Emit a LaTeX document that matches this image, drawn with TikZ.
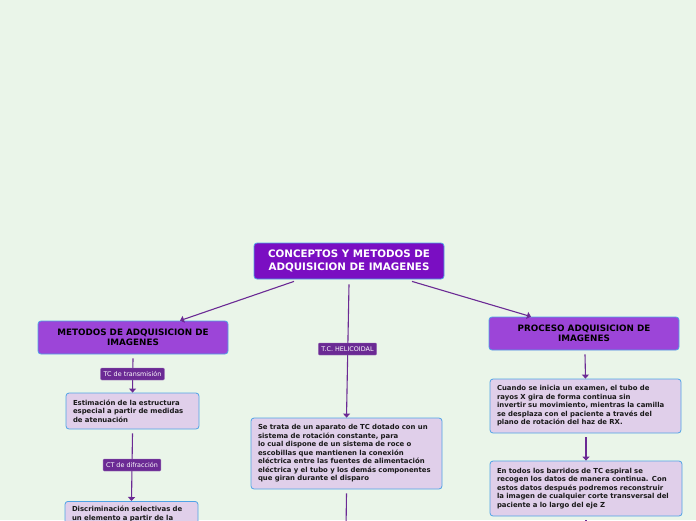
\documentclass[tikz,border=0pt]{standalone}
\usepackage{fontspec}
\setmainfont{DejaVu Sans}
\usetikzlibrary{calc,arrows.meta}
\definecolor{bg}{HTML}{EAF5E9}
\definecolor{cfill}{HTML}{7A0EC2}
\definecolor{mfill}{HTML}{9C45D8}
\definecolor{bfill}{HTML}{E0CFEA}
\definecolor{lfill}{HTML}{6B2A94}
\definecolor{edge}{HTML}{4FA3E6}
\definecolor{wire}{HTML}{6B2A94}
\tikzset{
  central/.style={draw=edge,line width=0.8pt,fill=cfill,rounded corners=3pt,text=white,font=\bfseries\fontsize{10.3}{12.8}\selectfont,align=center,minimum width=190pt,minimum height=36pt,inner sep=0pt},
  mainbox/.style={draw=edge,line width=0.8pt,fill=mfill,rounded corners=3pt,text=black,font=\bfseries\fontsize{8.8}{10.5}\selectfont,align=center,minimum width=190pt,minimum height=33pt,inner sep=0pt},
  bodybox/.style={draw=edge,line width=0.8pt,fill=bfill,rounded corners=3pt,text=black!90,font=\bfseries\fontsize{6.9}{8.5}\selectfont,align=left,inner xsep=7pt,inner ysep=0pt},
  lab/.style={draw=lfill!70!white,line width=0.4pt,fill=lfill,rounded corners=1pt,text=white,font=\fontsize{6.4}{7}\selectfont,inner xsep=3pt,minimum height=12pt,inner ysep=0pt},
  wireline/.style={draw=wire,line width=1.1pt},
  tip/.style={-{Triangle[length=4pt,width=7pt]}},
}
\begin{document}
\begin{tikzpicture}[x=1pt,y=-1pt]
\useasboundingbox (0,0) rectangle (696,520);
\fill[bg] (0,0) rectangle (696,520);
\clip (0,0) rectangle (696,520);

\node[central] (c) at (349,261) {CONCEPTOS Y METODOS DE\\ADQUISICION DE IMAGENES};
\node[mainbox] (lm) at (133,337.5) {METODOS DE ADQUISICION DE\\IMAGENES};
\node[mainbox] (rm) at (584,333.5) {PROCESO ADQUISICION DE\\IMAGENES};

\node[bodybox,text width=119pt,minimum height=36pt] (est) at (132.5,411) {Estimación de la estructura\\especial a partir de medidas\\de atenuación};
\node[bodybox,text width=119pt,anchor=north,inner ysep=5pt] (disc) at (131.5,501) {Discriminación selectivas de\\un elemento a partir de la\\};
\node[bodybox,text width=177pt,minimum height=71pt] (hel) at (346.5,453.5) {Se trata de un aparato de TC dotado con un\\sistema de rotación constante, para\\lo cual dispone de un sistema de roce o\\escobillas que mantienen la conexión\\eléctrica entre las fuentes de alimentación\\eléctrica y el tubo y los demás componentes\\que giran durante el disparo};
\node[bodybox,text width=177pt,minimum height=54pt] (r1) at (585.5,406) {Cuando se inicia un examen, el tubo de\\rayos X gira de forma continua sin\\invertir su movimiento, mientras la camilla\\se desplaza con el paciente a través del\\plano de rotación del haz de RX.};
\node[bodybox,text width=178pt,minimum height=55pt] (r2) at (586,488.5) {En todos los barridos de TC espiral se\\recogen los datos de manera continua. Con\\estos datos después podremos reconstruir\\la imagen de cualquier corte transversal del\\paciente a lo largo del eje Z};

\coordinate (hend) at (346,530);
\coordinate (rend) at (586,530);

% connectors
\draw[wireline,tip] ($(c.south)+(-55,2)$) -- ($(lm.north)+(47,0)$);
\draw[wireline,tip] ($(c.south)+(63,2)$) -- ($(rm.north)+(-53,0)$);
\draw[wireline,tip] ($(c.south)+(0,5)$) -- (hel.north);
\draw[wireline,tip] ($(lm.south)+(0,4)$) -- (est.north);
\draw[wireline,tip] ($(est.south)+(0,4)$) -- (disc.north);
\draw[wireline,tip] ($(rm.south)+(1,4)$) -- (r1.north);
\draw[wireline,tip] ($(r1.south)+(0.5,4)$) -- (r2.north);
\draw[wireline] ($(hel.south)+(0,4)$) -- (hend);
\draw[wireline] ($(r2.south)+(0,4)$) -- (rend);

% labels on connectors
\node[lab] (l1) at (132.5,374) {TC de transmisión};
\node[lab] (l2) at (132,465) {CT de difracción};
\node[lab] (l3) at (347.5,349) {T.C. HELICOIDAL};
\end{tikzpicture}
\end{document}
